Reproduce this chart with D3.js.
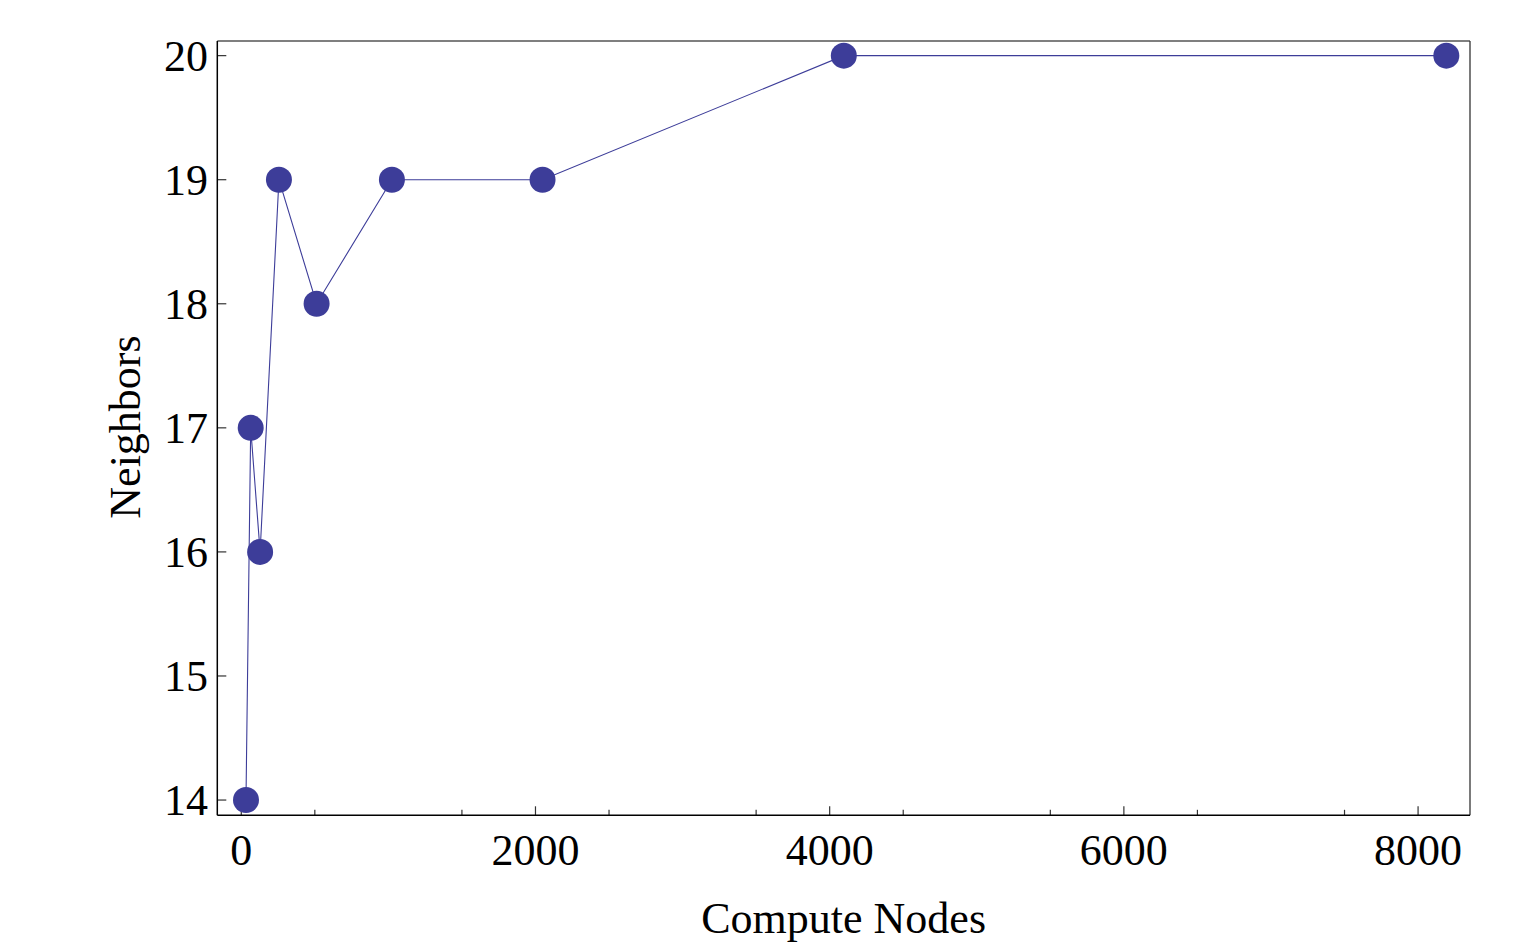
<!DOCTYPE html>
<html>
<head>
<meta charset="utf-8">
<script src="https://cdn.jsdelivr.net/npm/d3@7"></script>
<style>
  body { margin: 0; background: #fff; }
  text { font-family: "Liberation Serif", "Times New Roman", serif; fill: #000; }
</style>
</head>
<body>
<div id="chart"></div>
<script>
// data
var computeNodes = [32, 64, 128, 256, 512, 1024, 2048, 4096, 8192];
var neighbors = [14, 17, 16, 19, 18, 19, 19, 20, 20];
var xTicks = [0, 2000, 4000, 6000, 8000];
var yTicks = [14, 15, 16, 17, 18, 19, 20];

var svgWidth = 1522;
var svgHeight = 947;

// frame box
var frame = { left: 217.3, right: 1470, top: 41, bottom: 815.3 };

var svg = d3.select("#chart")
  .append("svg")
  .attr("width", svgWidth)
  .attr("height", svgHeight);

var xScale = d3.scaleLinear()
  .domain([-163, 8353])
  .range([frame.left, frame.right]);

var yScale = d3.scaleLinear()
  .domain([13.877, 20.118])
  .range([frame.bottom, frame.top]);

var color = "#3d3d99";

// x minor ticks every 500
var xMinor = d3.range(500, 8500, 1000);

svg.append("g")
  .selectAll("line.minor")
  .data(xMinor)
  .enter()
  .append("line")
  .attr("x1", d => xScale(d))
  .attr("x2", d => xScale(d))
  .attr("y1", frame.bottom)
  .attr("y2", frame.bottom - 5.5)
  .attr("stroke", "#333")
  .attr("stroke-width", 1.2);

// x major ticks
svg.append("g")
  .selectAll("line")
  .data(xTicks)
  .enter()
  .append("line")
  .attr("x1", d => xScale(d))
  .attr("x2", d => xScale(d))
  .attr("y1", frame.bottom)
  .attr("y2", frame.bottom - 9)
  .attr("stroke", "#333")
  .attr("stroke-width", 1.2);

svg.append("g")
  .selectAll("text")
  .data(xTicks)
  .enter()
  .append("text")
  .attr("x", d => xScale(d))
  .attr("y", 865)
  .attr("text-anchor", "middle")
  .attr("font-size", "44px")
  .text(d => d);

// y ticks
svg.append("g")
  .selectAll("line")
  .data(yTicks)
  .enter()
  .append("line")
  .attr("x1", frame.left)
  .attr("x2", frame.left + 9)
  .attr("y1", d => yScale(d))
  .attr("y2", d => yScale(d))
  .attr("stroke", "#333")
  .attr("stroke-width", 1.2);

svg.append("g")
  .selectAll("text")
  .data(yTicks)
  .enter()
  .append("text")
  .attr("x", 208)
  .attr("y", d => yScale(d))
  .attr("dy", "0.34em")
  .attr("text-anchor", "end")
  .attr("font-size", "44px")
  .text(d => d);

// frame
svg.append("line")
  .attr("x1", frame.left).attr("x2", frame.right)
  .attr("y1", frame.top).attr("y2", frame.top)
  .attr("stroke", "#555").attr("stroke-width", 1.3);
svg.append("line")
  .attr("x1", frame.right).attr("x2", frame.right)
  .attr("y1", frame.top).attr("y2", frame.bottom)
  .attr("stroke", "#333").attr("stroke-width", 1.3);
svg.append("line")
  .attr("x1", frame.left).attr("x2", frame.left)
  .attr("y1", frame.top).attr("y2", frame.bottom)
  .attr("stroke", "#000").attr("stroke-width", 1.5);
svg.append("line")
  .attr("x1", frame.left).attr("x2", frame.right)
  .attr("y1", frame.bottom).attr("y2", frame.bottom)
  .attr("stroke", "#000").attr("stroke-width", 1.5);

// line + points
var points = computeNodes.map((x, i) => ({ x: x, y: neighbors[i] }));

var line = d3.line()
  .x(d => xScale(d.x))
  .y(d => yScale(d.y));

svg.append("path")
  .datum(points)
  .attr("d", line)
  .attr("fill", "none")
  .attr("stroke", color)
  .attr("stroke-width", 1.1);

svg.append("g")
  .selectAll("circle")
  .data(points)
  .enter()
  .append("circle")
  .attr("cx", d => xScale(d.x))
  .attr("cy", d => yScale(d.y))
  .attr("r", 13)
  .attr("fill", color);

// axis labels
svg.append("text")
  .attr("x", (frame.left + frame.right) / 2)
  .attr("y", 933)
  .attr("text-anchor", "middle")
  .attr("font-size", "44px")
  .text("Compute Nodes");

svg.append("text")
  .attr("transform", "translate(140, 427) rotate(-90)")
  .attr("text-anchor", "middle")
  .attr("font-size", "44px")
  .text("Neighbors");
</script>
</body>
</html>
